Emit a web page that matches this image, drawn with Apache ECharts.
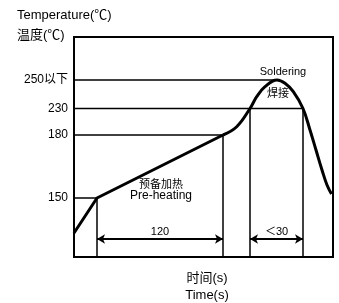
<!DOCTYPE html>
<html>
<head>
<meta charset="utf-8">
<script src="https://cdn.jsdelivr.net/npm/echarts@6/dist/echarts.min.js"></script>
<style>
html, body { margin: 0; padding: 0; background: #fff; }
#chart { width: 339px; height: 303px; }
</style>
</head>
<body>
<div id="chart"></div>
<script>
// schematic reflow profile, axes in drawing units (not to scale)
var tempLabels = ['150', '180', '230', '250以下'];
var tempLevels = [59, 122, 148.5, 177];
var guideEnds = [23, 149, 229, 203];          // where each level meets the curve

var dropX = [23, 149, 176, 229];              // vertical guides
var dropTop = [59, 122, 148.5, 148.5];

var preheat = [[0, 24], [23, 59], [149, 122]];
var solder = [[149, 122], [162.7, 130.3], [176, 148.5], [182.7, 160.3], [191, 170.3],
              [203, 177], [211, 173.7], [219.3, 165.3], [229, 148.5], [236, 127],
              [242, 107], [248, 87], [253, 72], [257.5, 63]];

var spans = [{from: 23, to: 149, label: '120'}, {from: 176, to: 229, label: '＜30'}];
var spanY = 18;

var myChart = echarts.init(document.getElementById('chart'));
var font = 'Liberation Sans, Arial, Noto Sans CJK SC, sans-serif';

var series = [];
tempLevels.forEach(function (y, i) {
    series.push({type: 'line', data: [[0, y], [guideEnds[i], y]], symbol: 'none',
        lineStyle: {color: '#000', width: 1.5}, silent: true});
});
dropX.forEach(function (x, i) {
    series.push({type: 'line', data: [[x, dropTop[i]], [x, 0]], symbol: 'none',
        lineStyle: {color: '#000', width: 1.5}, silent: true});
});
series.push({type: 'line', data: preheat, symbol: 'none',
    lineStyle: {color: '#000', width: 3}});
series.push({type: 'line', data: solder, symbol: 'none', smooth: 0.4,
    lineStyle: {color: '#000', width: 3},
    markLine: {
        silent: true,
        symbol: ['arrow', 'arrow'],
        symbolSize: [7, 8],
        lineStyle: {color: '#000', width: 2, type: 'solid'},
        label: {show: true, position: 'middle', color: '#000', fontSize: 11,
            fontFamily: font, distance: 2, formatter: '{b}'},
        data: spans.map(function (s) {
            return [{coord: [s.from, spanY], name: s.label}, {coord: [s.to, spanY]}];
        })
    }
});

var option = {
    animation: false,
    grid: {left: 74, right: 6, top: 37, bottom: 46, show: true,
        borderColor: '#000', borderWidth: 2},
    xAxis: {type: 'value', min: 0, max: 259, axisLine: {show: false},
        axisTick: {show: false}, axisLabel: {show: false}, splitLine: {show: false}},
    yAxis: {type: 'value', min: 0, max: 220, axisLine: {show: false},
        axisTick: {show: false}, splitLine: {show: false},
        axisLabel: {customValues: tempLevels, margin: 6, color: '#000', fontSize: 12,
            fontFamily: font,
            formatter: function (v) {
                var i = tempLevels.indexOf(v);
                return i < 0 ? '' : tempLabels[i];
            }}},
    series: series,
    graphic: [
        {type: 'text', left: 17, top: 9, style: {text: 'Temperature(℃)', font: '13px ' + font, fill: '#000'}},
        {type: 'text', left: 17, top: 29, style: {text: '温度(℃)', font: '13px ' + font, fill: '#000'}},
        {type: 'text', x: 283, y: 72, style: {text: 'Soldering', font: '11px ' + font, fill: '#000', align: 'center', verticalAlign: 'middle'}},
        {type: 'text', x: 278, y: 94, style: {text: '焊接', font: '11px ' + font, fill: '#000', align: 'center', verticalAlign: 'middle'}},
        {type: 'text', x: 161, y: 185, style: {text: '预备加热', font: '11px ' + font, fill: '#000', align: 'center', verticalAlign: 'middle'}},
        {type: 'text', x: 161, y: 196, style: {text: 'Pre-heating', font: '12px ' + font, fill: '#000', align: 'center', verticalAlign: 'middle'}},
        {type: 'text', x: 207, y: 278, style: {text: '时间(s)', font: '13px ' + font, fill: '#000', align: 'center', verticalAlign: 'middle'}},
        {type: 'text', x: 207, y: 295, style: {text: 'Time(s)', font: '13px ' + font, fill: '#000', align: 'center', verticalAlign: 'middle'}}
    ]
};

myChart.setOption(option);
</script>
</body>
</html>
